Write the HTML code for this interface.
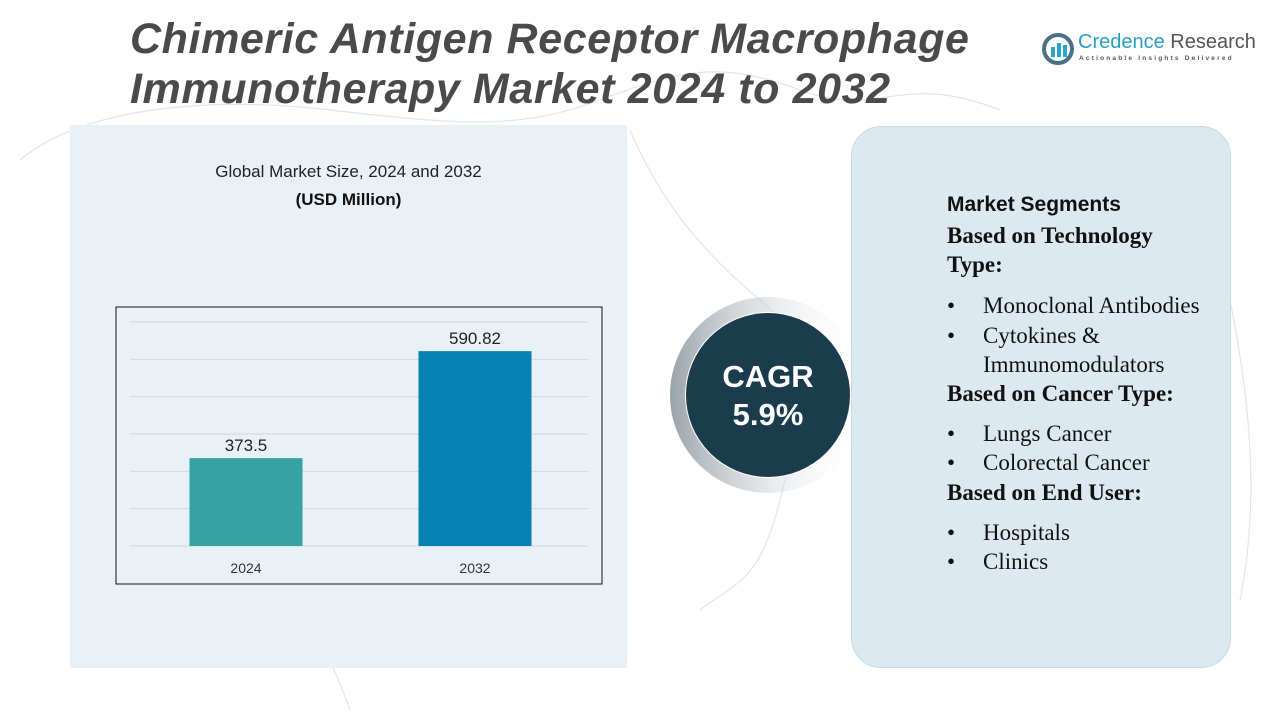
<!DOCTYPE html>
<html><head><meta charset="utf-8"><style>
body{margin:0;width:1280px;height:720px;background:#fff;position:relative;overflow:hidden;font-family:"Liberation Sans",sans-serif}
.abs{position:absolute}
#title{left:130px;top:14px;font-size:43px;font-weight:bold;font-style:italic;color:#4a4a4a;line-height:50px;letter-spacing:0.6px;white-space:nowrap}
#left-panel{left:70px;top:125px;width:557px;height:543px;background:#e9f1f7}
#right-panel{left:851px;top:126px;width:378px;height:540px;background:#dde9f1;border:1px solid #c8dae6;border-radius:30px}
.seg{font-family:"Liberation Serif",serif;color:#111}
</style></head><body>
<svg class="abs" style="left:0;top:0" width="1280" height="720">
<g fill="none" stroke="#dde6ee" stroke-width="1.2">
<path d="M20 160 C80 110 200 95 330 110 S520 130 600 100 S720 60 800 90 S900 70 1000 110"/>
<path d="M630 130 C660 200 700 250 760 300 S800 420 780 500 S740 580 700 610"/>
<path d="M1230 300 C1250 400 1260 500 1240 600"/>
<path d="M300 590 C320 640 340 680 350 710"/>
</g></svg>
<div id="left-panel" class="abs"></div>
<div id="title" class="abs">Chimeric Antigen Receptor Macrophage<br>Immunotherapy Market 2024 to 2032</div>
<div class="abs" style="left:1042px;top:33px">
<svg width="32" height="32"><circle cx="16" cy="16" r="14" fill="none" stroke="#4a6f8a" stroke-width="4"/><rect x="9" y="14" width="4" height="10" fill="#2aa6c8"/><rect x="15" y="10" width="4" height="14" fill="#2aa6c8"/><rect x="21" y="12" width="4" height="12" fill="#2aa6c8"/></svg>
<div class="abs" style="left:36px;top:-2px;font-size:20px;color:#2a9fc4;white-space:nowrap">Credence <span style="color:#555">Research</span></div>
<div class="abs" style="left:37px;top:22px;font-size:6.5px;letter-spacing:2.2px;color:#555;white-space:nowrap;font-weight:bold">Actionable Insights Delivered</div>
</div>
<div class="abs" style="left:70px;width:557px;top:162px;text-align:center;font-size:17px;color:#222">Global Market Size, 2024 and 2032</div>
<div class="abs" style="left:70px;width:557px;top:190px;text-align:center;font-size:17px;font-weight:bold;color:#111">(USD Million)</div>
<svg id="chart" class="abs" style="left:0;top:0" width="1280" height="720"></svg>
<svg class="abs" style="left:640px;top:280px" width="240" height="240">
<defs><linearGradient id="g" x1="0" x2="1"><stop offset="0" stop-color="#9aa3aa"/><stop offset="1" stop-color="#ffffff" stop-opacity="0"/></linearGradient></defs>
<circle cx="128" cy="115" r="98" fill="url(#g)"/>
<circle cx="128" cy="115" r="83" fill="#fff"/>
<circle cx="128" cy="115" r="82" fill="#1b3c4d"/>
<text x="128" y="107" text-anchor="middle" font-size="31" font-weight="bold" fill="#fff" font-family="Liberation Sans">CAGR</text>
<text x="128" y="145" text-anchor="middle" font-size="31" font-weight="bold" fill="#fff" font-family="Liberation Sans">5.9%</text>
</svg>
<div id="right-panel" class="abs"></div>
<div class="abs" style="left:947px;top:193px;font-size:21px;font-weight:bold;color:#111">Market Segments</div>
<div class="abs seg" style="left:947px;top:221px;font-size:23px;line-height:29.2px;width:285px">
<div style="font-weight:bold">Based on Technology<br>Type:</div>
<div style="margin-top:12px;padding-left:36px">
<div style="position:relative"><span class="abs" style="left:-36px">•</span>Monoclonal Antibodies</div>
<div style="position:relative"><span class="abs" style="left:-36px">•</span>Cytokines &amp;<br>Immunomodulators</div></div>
<div style="font-weight:bold">Based on Cancer Type:</div>
<div style="margin-top:11px;padding-left:36px">
<div style="position:relative"><span class="abs" style="left:-36px">•</span>Lungs Cancer</div>
<div style="position:relative"><span class="abs" style="left:-36px">•</span>Colorectal Cancer</div></div>
<div style="font-weight:bold">Based on End User:</div>
<div style="margin-top:11px;padding-left:36px">
<div style="position:relative"><span class="abs" style="left:-36px">•</span>Hospitals</div>
<div style="position:relative"><span class="abs" style="left:-36px">•</span>Clinics</div></div>
</div>
<script>
const categories=["2024","2032"];
const values=[373.5,590.82];
const valueLabels=["373.5","590.82"];
const yMin=195, yMax=650, gridCount=6;
const svg=document.getElementById('chart');
const NS='http://www.w3.org/2000/svg';
const plot={x:116,y:307,w:486,h:277,base:546,top:322};
const yScale=v=>plot.base-(v-yMin)/(yMax-yMin)*(plot.base-plot.top);
const xCenter=i=>plot.x+130+i*229;
const colors=["#35a3a3","#0780b2"];
function mk(t,a){const e=document.createElementNS(NS,t);for(const k in a)e.setAttribute(k,a[k]);svg.appendChild(e);return e;}
const frame=mk('rect',{x:plot.x,y:plot.y,width:plot.w,height:plot.h,fill:'none',stroke:'#111','stroke-width':1});


for(let i=0;i<=gridCount;i++){const v=yMin+(yMax-yMin)*i/gridCount;const y=yScale(v);
const g=mk('line',{x1:plot.x+14,x2:plot.x+plot.w-14,y1:y,y2:y,stroke:'#d0d8de','stroke-width':1});

}
values.forEach((v,i)=>{const cx=xCenter(i),w=113,y=yScale(v);
const b=mk('rect',{x:cx-w/2,y:y,width:w,height:plot.base-y,fill:colors[i]});


const t=mk('text',{x:cx,y:y-7,'text-anchor':'middle','font-size':17,fill:'#222','font-family':'Liberation Sans'});t.textContent=valueLabels[i];


const c=mk('text',{x:cx,y:573,'text-anchor':'middle','font-size':14,fill:'#333','font-family':'Liberation Sans'});c.textContent=categories[i];

});
</script>
</body></html>
